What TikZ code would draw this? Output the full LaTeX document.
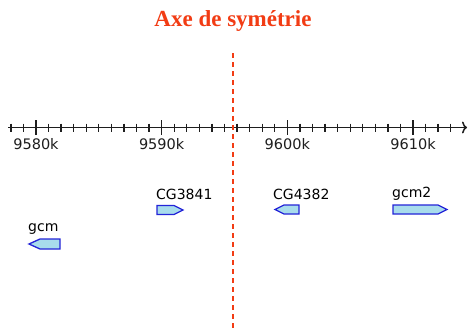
\documentclass[tikz,border=0pt]{standalone}
\usepackage{fontspec}
\setmainfont{DejaVu Sans}
\newfontfamily\titlefont{Liberation Serif}
\usetikzlibrary{arrows.meta}

\definecolor{axisred}{HTML}{F23C14}
\definecolor{geneline}{HTML}{2424D8}
\definecolor{genefill}{HTML}{A8DCEC}
\definecolor{axisink}{HTML}{1E1E1E}

\tikzset{
  ruler/.style={draw=axisink, line width=1.5pt},
  minortick/.style={draw=axisink, line width=1.3pt},
  majortick/.style={draw=axisink, line width=1.4pt},
  poslabel/.style={anchor=base, inner sep=0pt, text=axisink,
    font=\fontsize{14.5}{16}\selectfont},
  genelabel/.style={anchor=base west, inner sep=0pt, text=black,
    font=\fontsize{14}{16}\selectfont},
  genebox/.style={draw=geneline, fill=genefill, line width=1.3pt, line join=miter},
  symaxis/.style={draw=axisred, line width=1.5pt, dash pattern=on 5pt off 4pt},
  titletext/.style={anchor=base, inner sep=0pt, text=axisred,
    font=\titlefont\bfseries\fontsize{23}{27}\selectfont}
}

\begin{document}
\begin{tikzpicture}[x=1pt, y=-1pt]
  \useasboundingbox (0,0) rectangle (469,332);
  \fill[white] (0,0) rectangle (469,332);

  % title and symmetry axis
  \node[titletext] (title) at (233,27) {Axe de symétrie};
  \coordinate (symtop) at (233,53);
  \coordinate (symbot) at (233,332);

  % genomic ruler, one tick per kb, 9578k .. 9613k
  \coordinate (rulerstart) at (8,127.5);
  \coordinate (rulerend) at (467,127.5);
  \draw[ruler, -{To[length=5pt, width=12pt]}] (rulerstart) -- (rulerend);
  \foreach \k in {-2,...,33} {
    \pgfmathsetmacro{\xx}{36 + 12.567*\k}
    \draw[minortick] (\xx,123.5) -- (\xx,131.5);
  }
  \foreach \k/\lab in {0/9580k, 10/9590k, 20/9600k, 30/9610k} {
    \pgfmathsetmacro{\xx}{36 + 12.567*\k}
    \draw[majortick] (\xx,120) -- (\xx,135);
    \node[poslabel] (pos\k) at (\xx,149.5) {\lab};
  }

  % genes (forward strand points right, reverse strand points left)
  \draw[genebox] (157,205.5) -- (174,205.5) -- (183,210) -- (174,214.5) -- (157,214.5) -- cycle;
  \node[genelabel] (cg3841) at (156,199) {CG3841};

  \draw[genebox] (299,205) -- (284,205) -- (275,209.5) -- (284,214) -- (299,214) -- cycle;
  \node[genelabel] (cg4382) at (273,199) {CG4382};

  \draw[genebox] (393,205) -- (438,205) -- (447,209.5) -- (438,214) -- (393,214) -- cycle;
  \node[genelabel] (gcmtwo) at (392,197.5) {gcm2};

  \draw[genebox] (60,239) -- (40,239) -- (29,244) -- (40,249) -- (60,249) -- cycle;
  \node[genelabel] (gcm) at (28,231.5) {gcm};

  % dashed axis drawn last so it crosses the ruler
  \draw[symaxis] (symtop) -- (symbot);
\end{tikzpicture}
\end{document}
